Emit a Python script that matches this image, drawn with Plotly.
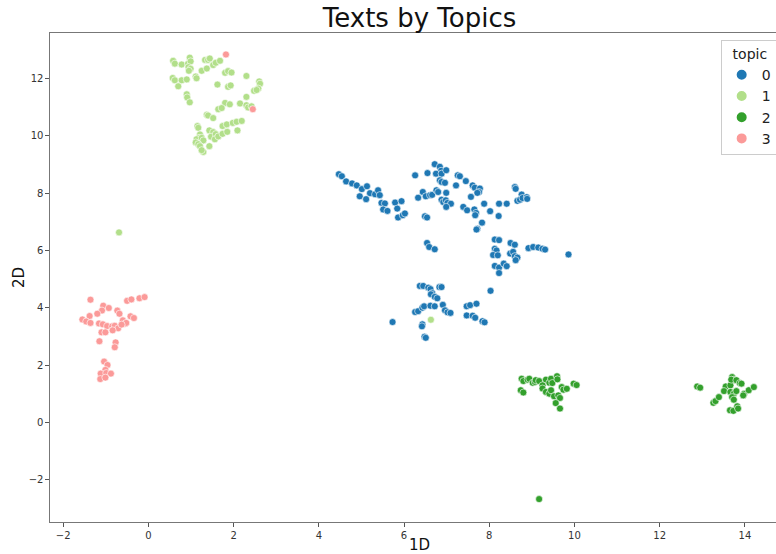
import plotly.graph_objects as go

topics = ["0", "1", "2", "3"]
colors = ["#1f78b4", "#b2df8a", "#33a02c", "#fb9a99"]

t0_x = [4.47, 4.54, 4.64, 4.78, 4.89, 5.01, 5.13, 5.20, 5.32, 5.39, 4.96, 5.11,
        5.43, 5.47, 5.55, 5.51, 5.61, 5.79, 5.94, 5.84, 5.86, 5.97, 6.02,
        6.26, 6.55, 6.72, 6.84, 6.87, 6.75, 6.88, 6.99, 6.84, 6.88, 6.96,
        7.26, 7.31, 7.45, 7.22, 7.61, 7.66, 7.78, 7.76, 7.72,
        6.44, 6.51, 6.33, 6.61, 6.66, 6.76, 6.80, 6.99,
        6.88, 6.92, 6.98, 7.02, 7.10, 6.99, 7.57, 7.39, 7.48, 7.65, 7.69, 7.67,
        7.88, 8.02, 7.83, 7.72, 7.70, 8.23, 8.41, 8.22,
        8.60, 8.62, 8.76, 8.66, 8.72, 8.78, 8.88, 8.89,
        6.49, 6.54, 6.54, 6.59, 6.72,
        8.13, 8.23, 8.13, 8.17, 8.09, 8.20, 8.50, 8.60, 8.49, 8.56, 8.60, 8.66, 8.62,
        8.13, 8.23, 8.34, 8.41, 8.23,
        8.92, 9.03, 9.15, 9.25, 9.31, 9.86,
        6.37, 6.45, 6.57, 6.62, 6.83, 6.88, 6.66, 6.63, 6.72, 6.78,
        6.26, 6.33, 6.43, 6.47, 6.62, 6.72, 6.91, 6.96, 7.02, 7.09,
        7.47, 7.55, 7.70, 7.47, 7.61, 7.67, 7.84, 7.89, 8.03,
        6.43, 6.42, 6.48, 6.51, 5.73]
t0_y = [8.66, 8.59, 8.41, 8.34, 8.27, 8.14, 8.24, 8.00, 7.96, 8.10, 7.89, 7.79,
        7.93, 7.66, 7.64, 7.43, 7.38, 7.67, 7.72, 7.46, 7.15, 7.23, 7.29,
        8.62, 8.70, 9.01, 8.92, 8.78, 8.68, 8.68, 8.80, 8.45, 8.39, 8.36,
        8.62, 8.59, 8.42, 8.27, 8.27, 8.19, 8.16, 8.04, 8.01,
        8.04, 7.89, 7.84, 7.93, 7.94, 8.10, 8.04, 8.01,
        7.77, 7.69, 7.75, 7.66, 7.63, 7.52, 7.87, 7.52, 7.40, 7.43, 7.31, 7.23,
        7.63, 7.37, 6.97, 6.76, 6.73, 7.63, 7.63, 7.20,
        8.21, 8.15, 7.95, 7.73, 7.77, 7.83, 7.86, 7.80,
        7.19, 7.15, 6.26, 6.12, 6.04,
        6.38, 6.36, 6.06, 6.00, 5.84, 5.83, 6.26, 6.20, 5.89, 5.95, 5.80, 5.75, 5.66,
        5.46, 5.40, 5.54, 5.45, 5.21,
        6.08, 6.12, 6.10, 6.06, 6.03, 5.86,
        4.76, 4.76, 4.70, 4.65, 4.72, 4.72, 4.51, 4.47, 4.38, 4.33,
        3.85, 3.88, 4.00, 4.05, 4.07, 4.05, 4.10, 3.91, 3.84, 3.82,
        4.05, 4.09, 4.14, 3.73, 3.72, 3.65, 3.53, 3.49, 4.59,
        3.42, 3.35, 2.99, 2.95, 3.50]

t1_x = [0.58, 0.62, 0.78, 0.93, 0.97, 0.99, 0.94, 0.99, 0.95, 1.11, 1.13, 1.25,
        1.33, 1.40, 1.44, 1.37, 1.52, 1.58, 1.68, 0.57, 0.62, 0.78, 0.90, 0.70,
        0.90, 0.91, 0.97, 1.62, 1.80, 1.87, 1.95, 1.87, 1.93, 2.30, 2.60, 2.62,
        2.58, 2.48, 2.54, 2.30, 1.80, 1.91, 2.15, 2.30, 2.34, 2.42, 1.64, 1.72,
        1.37, 1.40, 1.52, 1.15, 1.17, 1.74, 1.84, 1.98, 2.07, 2.19, 1.43, 1.52,
        1.21, 1.19, 1.13, 1.11, 1.25, 1.29, 1.17, 1.21, 1.29, 1.25, 1.43, 1.47,
        1.58, 1.56, 1.64, 1.74, 1.85, 2.09, -0.69, 6.63]
t1_y = [12.62, 12.52, 12.49, 12.52, 12.73, 12.60, 12.40, 12.34, 12.27, 12.07, 12.01, 12.27,
        12.65, 12.65, 12.70, 12.35, 12.47, 12.55, 12.62, 12.02, 11.94, 11.94, 11.97, 11.73,
        11.45, 11.34, 11.17, 11.79, 12.20, 12.26, 12.21, 11.71, 11.76, 12.09, 11.90, 11.82,
        11.65, 11.57, 11.60, 11.36, 11.15, 11.10, 11.13, 11.07, 10.99, 11.03, 10.93, 10.97,
        10.74, 10.71, 10.62, 10.34, 10.28, 10.34, 10.40, 10.45, 10.49, 10.52, 10.19, 10.13,
        10.05, 9.93, 9.88, 9.77, 9.93, 9.84, 9.71, 9.64, 9.44, 9.50, 9.64, 9.97,
        10.06, 9.88, 9.98, 10.07, 10.14, 10.19, 6.63, 3.58]

t2_x = [8.76, 8.80, 8.90, 8.94, 9.02, 9.07, 9.09, 9.17, 9.33, 9.41, 9.45, 9.48,
        9.59, 9.60, 9.25, 9.25, 9.33, 9.41, 9.45, 8.74, 8.80, 9.52, 9.62, 9.66,
        9.56, 9.66, 9.70, 9.74, 9.82, 9.98, 10.05, 9.17,
        12.88, 12.95, 13.26, 13.31, 13.39, 13.55, 13.51, 13.66, 13.70, 13.74, 13.68,
        13.80, 13.88, 13.92, 13.66, 13.74, 13.80, 13.70, 13.74, 13.65, 13.73, 13.82,
        13.84, 13.98, 13.96, 14.09, 14.21]
t2_y = [1.52, 1.44, 1.49, 1.52, 1.38, 1.41, 1.47, 1.44, 1.49, 1.38, 1.52, 1.37,
        1.61, 1.50, 1.29, 1.18, 1.06, 1.00, 1.12, 1.12, 1.04, 0.91, 0.94, 0.85,
        0.67, 0.48, 1.23, 1.14, 1.17, 1.35, 1.30, -2.68,
        1.25, 1.21, 0.68, 0.74, 0.88, 1.25, 1.09, 1.29, 1.58, 1.49, 1.49,
        1.47, 1.37, 1.35, 1.06, 1.00, 1.09, 0.88, 0.79, 0.42, 0.40, 0.56,
        0.48, 1.00, 0.94, 1.12, 1.23]

t3_x = [-1.36, -0.50, -0.40, -0.21, -0.09, -1.06, -0.93, -1.09, -1.20, -0.73, -0.68,
        -1.38, -1.55, -1.46, -1.36, -1.16, -1.07, -0.97, -0.85, -0.79, -0.71, -0.60,
        -0.55, -0.52, -0.63, -0.42, -0.34, -1.10, -1.01, -0.84, -1.15, -0.77, -0.79,
        -1.04, -0.96, -1.01, -1.12, -0.99, -0.88, -1.13, -1.01, 1.82, 2.45]
t3_y = [4.28, 4.24, 4.29, 4.33, 4.37, 4.07, 3.99, 3.90, 3.79, 3.90, 3.79,
        3.71, 3.59, 3.52, 3.47, 3.45, 3.42, 3.36, 3.35, 3.37, 3.28, 3.56,
        3.44, 3.47, 3.41, 3.70, 3.64, 3.14, 3.14, 3.21, 2.83, 2.79, 2.62,
        2.12, 2.00, 1.83, 1.70, 1.72, 1.70, 1.51, 1.56, 12.84, 10.93]

xs = [t0_x, t1_x, t2_x, t3_x]
ys = [t0_y, t1_y, t2_y, t3_y]

fig = go.Figure()
for name, c, x, y in zip(topics, colors, xs, ys):
    fig.add_trace(go.Scatter(
        x=x, y=y, mode="markers", name=name,
        marker=dict(color=c, size=7, line=dict(color="white", width=0.6)),
    ))

W, H = 776, 554
font_family = "DejaVu Sans"
fig.update_layout(
    width=W, height=H,
    margin=dict(l=50, r=0, t=33, b=32, autoexpand=False),
    paper_bgcolor="white", plot_bgcolor="white",
    font=dict(family=font_family, color="#222"),
    title=dict(text="Texts by Topics", x=419.5 / W, xref="container", xanchor="center",
               y=1 - 17.5 / H, yref="container", yanchor="middle",
               font=dict(size=26, color="#111")),
    showlegend=True,
    legend=dict(
        title=dict(text="\u00a0\u00a0topic", font=dict(size=14)),
        font=dict(size=14),
        x=0.9238, xanchor="left", y=0.9857, yanchor="top",
        bordercolor="#cccccc", borderwidth=1, bgcolor="rgba(255,255,255,0.85)",
        itemsizing="constant",
    ),
    annotations=[dict(
        text="1D", xref="paper", yref="paper", x=(419.5 - 50) / 726, y=0,
        xanchor="center", yanchor="middle", yshift=-22.8, borderpad=0,
        showarrow=False, font=dict(size=15, color="#111"),
    )],
)
fig.update_xaxes(
    range=[-2.31, 14.73], showgrid=False, zeroline=False,
    showline=True, linecolor="#777", linewidth=1.2, mirror=True,
    ticks="outside", ticklen=3.5, tickcolor="#555", tickwidth=1,
    tickvals=[-2, 0, 2, 4, 6, 8, 10, 12, 14],
    tickfont=dict(size=10, color="#333"),
)
fig.update_yaxes(
    range=[-3.48, 13.59], showgrid=False, zeroline=False,
    showline=True, linecolor="#777", linewidth=1.2, mirror=False,
    ticks="outside", ticklen=3.5, tickcolor="#555", tickwidth=1,
    tickvals=[-2, 0, 2, 4, 6, 8, 10, 12],
    tickfont=dict(size=10, color="#333"),
    title=dict(text="2D", font=dict(size=15, color="#111"), standoff=0),
)

# the default page body has an 8px margin; remove it so the figure fills the window
fig.write_html("out.html", config={"displayModeBar": False},
               post_script="document.body.style.margin='0px';")
